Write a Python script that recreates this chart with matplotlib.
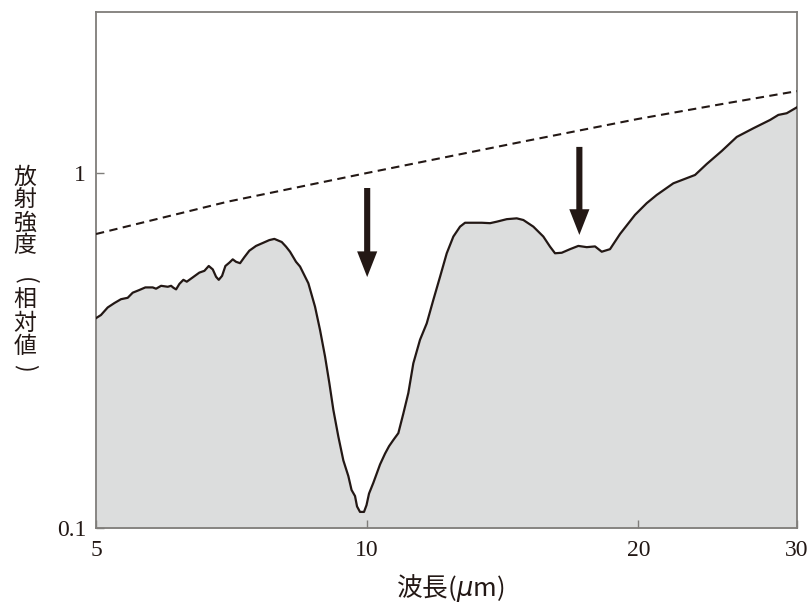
import matplotlib
matplotlib.use("Agg")
import matplotlib.pyplot as plt
from matplotlib.patches import FancyArrowPatch, ArrowStyle
from matplotlib.ticker import FixedLocator, FixedFormatter, NullLocator

# Measured emission spectrum (wavelength in micrometres, relative intensity)
wavelength = [
    5.000, 5.064, 5.152, 5.240, 5.330, 5.422, 5.492, 5.585, 5.672, 5.780,
    5.830, 5.905, 6.007, 6.058, 6.094, 6.136, 6.188, 6.251, 6.306, 6.403,
    6.512, 6.596, 6.670, 6.739, 6.796, 6.843, 6.901, 6.960, 7.031, 7.092,
    7.152, 7.226, 7.305, 7.399, 7.527, 7.669, 7.787, 7.888, 8.038, 8.127,
    8.210, 8.337, 8.423, 8.604, 8.752, 8.865, 8.979, 9.078, 9.172, 9.289,
    9.409, 9.530, 9.608, 9.694, 9.744, 9.818, 9.919, 9.983, 10.047, 10.158,
    10.334, 10.467, 10.575, 10.692, 10.829, 10.968, 11.109, 11.252, 11.446, 11.644,
    11.842, 12.047, 12.255, 12.464, 12.679, 12.842, 13.118, 13.402, 13.690, 13.926,
    14.286, 14.656, 14.906, 15.291, 15.687, 15.958, 16.163, 16.443, 16.795, 17.155,
    17.527, 17.903, 18.212, 18.602, 19.083, 19.829, 20.431, 20.960, 21.870, 23.118,
    23.820, 24.751, 25.717, 26.832, 28.003, 28.603, 29.223, 30.000,
]
intensity = [
    0.390, 0.398, 0.418, 0.430, 0.441, 0.445, 0.460, 0.468, 0.476, 0.476,
    0.472, 0.481, 0.478, 0.481, 0.475, 0.470, 0.487, 0.500, 0.494, 0.508,
    0.524, 0.530, 0.547, 0.535, 0.510, 0.500, 0.513, 0.547, 0.559, 0.571,
    0.562, 0.557, 0.579, 0.604, 0.623, 0.636, 0.647, 0.652, 0.639, 0.620,
    0.600, 0.562, 0.545, 0.489, 0.420, 0.361, 0.304, 0.256, 0.215, 0.181,
    0.155, 0.140, 0.128, 0.123, 0.115, 0.111, 0.111, 0.116, 0.125, 0.134,
    0.151, 0.162, 0.170, 0.177, 0.185, 0.210, 0.240, 0.291, 0.339, 0.377,
    0.439, 0.510, 0.594, 0.662, 0.706, 0.724, 0.724, 0.724, 0.722, 0.729,
    0.741, 0.745, 0.737, 0.706, 0.662, 0.620, 0.594, 0.596, 0.610, 0.623,
    0.618, 0.621, 0.600, 0.610, 0.673, 0.762, 0.822, 0.867, 0.935, 0.987,
    1.060, 1.153, 1.263, 1.336, 1.410, 1.457, 1.473, 1.531,
]

# Blackbody reference curve (dashed)
blackbody_wl = [5, 7, 10, 15, 20, 25, 30]
blackbody = [0.673, 0.83, 1.0, 1.23, 1.42, 1.57, 1.70]

# Absorption band markers
arrow_wl = [10.0, 17.2]
arrow_top = [0.907, 1.184]
arrow_tip = [0.509, 0.669]

x_ticks = [5, 10, 20, 30]
x_tick_labels = ["5", "10", "20", "30"]
y_ticks = [0.1, 1]
y_tick_labels = ["0.1", "1"]
x_label = "波長($\\mu$m)"
y_label = "放射強度(相対値)"

INK = "#231815"
FILL = "#dcdddd"
SPINE = "#7f7d7a"
CJK = ["Noto Sans CJK JP", "DejaVu Sans"]
NUM_FONT = "Liberation Serif"

W, H = 811, 610
fig = plt.figure(figsize=(W / 100, H / 100), dpi=100)
ax = fig.add_axes([96 / W, 1 - 528 / H, (797 - 96) / W, (528 - 12) / H])
ax.set_xscale("log")
ax.set_yscale("log")
ax.set_xlim(5, 30)
ax.set_ylim(0.1, 2.84)

ax.fill_between(wavelength, 0.05, intensity, color=FILL, lw=0, zorder=1)
ax.plot(wavelength, intensity, color=INK, lw=1.6, solid_joinstyle="round", zorder=3)
ax.plot(blackbody_wl, blackbody, color=INK, lw=1.5, linestyle=(0, (4, 2.6)), zorder=3)

style = ArrowStyle("Simple", head_length=18.5, head_width=14.5, tail_width=4.4)
for xw, y0, y1 in zip(arrow_wl, arrow_top, arrow_tip):
    arr = FancyArrowPatch((xw, y0), (xw, y1), arrowstyle=style, mutation_scale=1,
                          shrinkA=0, shrinkB=0, color=INK, lw=0, zorder=4)
    ax.add_patch(arr)

ax.xaxis.set_major_locator(FixedLocator(x_ticks))
ax.xaxis.set_major_formatter(FixedFormatter(x_tick_labels))
ax.xaxis.set_minor_locator(NullLocator())
ax.yaxis.set_major_locator(FixedLocator(y_ticks))
ax.yaxis.set_major_formatter(FixedFormatter(y_tick_labels))
ax.yaxis.set_minor_locator(NullLocator())
ax.tick_params(axis="both", which="major", direction="in", length=6, width=1.0,
               color=SPINE, labelcolor=INK, labelsize=17)
ax.tick_params(axis="x", pad=9)
ax.tick_params(axis="y", pad=7)
for lab in ax.get_xticklabels() + ax.get_yticklabels():
    lab.set_fontfamily(NUM_FONT)

for sp in ax.spines.values():
    sp.set_color(SPINE)
    sp.set_linewidth(1.3)

# Horizontal axis title
fig.text(450 / W, 1 - 588 / H, x_label, ha="center", va="center",
         fontsize=18.5, family=CJK, color=INK)

# Vertical axis title, written top to bottom; brackets turned a quarter turn
centers = [177, 200, 223, 246, 281, 300, 323, 346, 368]
for ch, cy in zip(y_label, centers):
    rot = -90 if ch in "()" else 0
    fig.text(25 / W, 1 - cy / H, ch, ha="center", va="center", rotation=rot,
             rotation_mode="anchor", fontsize=16.5, family=CJK, color=INK)

fig.savefig("out.png", dpi=100)
